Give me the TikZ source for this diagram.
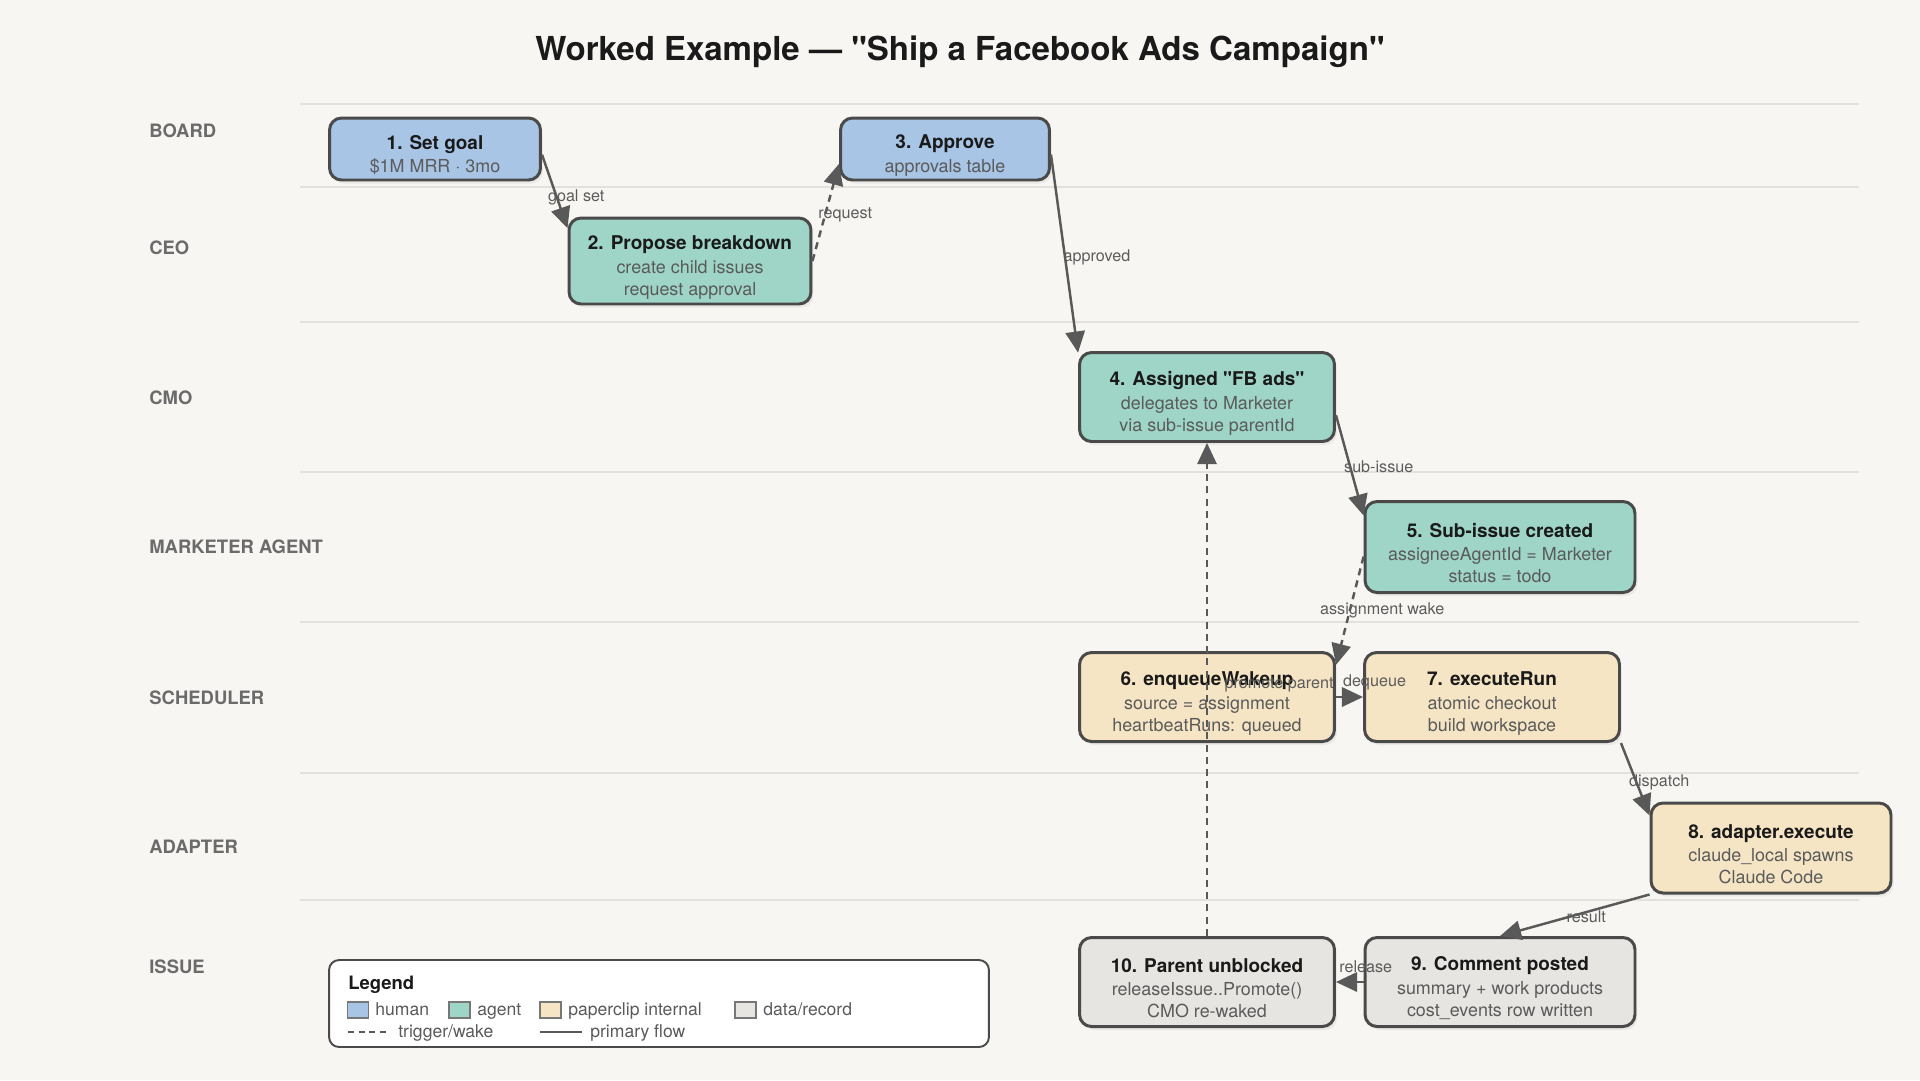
\documentclass[tikz,border=0pt]{standalone}
\usepackage{fontspec}
\setmainfont{TeX Gyre Heros}[Ligatures=TeXOff]
\usetikzlibrary{arrows.meta,shadows}

\definecolor{bgpaper}{HTML}{F7F6F2}
\definecolor{laneline}{HTML}{E3E1DC}
\definecolor{humanblue}{HTML}{A8C5E5}
\definecolor{agentteal}{HTML}{9ED5C7}
\definecolor{internalsand}{HTML}{F5E5C4}
\definecolor{recordgray}{HTML}{E6E5E1}
\definecolor{edgeink}{HTML}{4A4A4A}
\definecolor{arrowink}{HTML}{595959}
\definecolor{labelink}{HTML}{5C5C5C}
\definecolor{laneink}{HTML}{6B6B6B}
\definecolor{titleink}{HTML}{1A1A1A}
\definecolor{subink}{HTML}{5A5A5A}
\definecolor{swatchink}{HTML}{777777}

\newcommand{\steptitle}{\fontsize{10.8}{13}\selectfont\bfseries\color{titleink}}
\newcommand{\stepsub}{\fontsize{10.2}{12.5}\selectfont\color{subink}}
\newcommand{\stephead}[1]{{\rule{0pt}{15pt}\steptitle #1}}
\newcommand{\edgelbl}{\fontsize{9.2}{11}\selectfont}
\newcommand{\lanelbl}{\fontsize{10.5}{12}\selectfont\bfseries}
\newcommand{\legendhead}{\fontsize{10.5}{12}\selectfont\bfseries}
\newcommand{\legendfont}{\fontsize{10}{12}\selectfont}

\begin{document}
\begin{tikzpicture}[
        x=0.02cm, y=-0.02cm,
        stepbox/.style={rectangle, rounded corners=0.24cm, draw=edgeink, line width=1.7pt,
            inner sep=0pt, align=center, font=\stepsub,
            drop shadow={opacity=0.10, shadow xshift=0.05cm, shadow yshift=-0.07cm}},
        human/.style={stepbox, fill=humanblue},
        agent/.style={stepbox, fill=agentteal},
        internal/.style={stepbox, fill=internalsand},
        record/.style={stepbox, fill=recordgray},
        flow/.style={draw=arrowink, line width=1.4pt, -{Triangle[length=12pt,width=11pt]}},
        wake/.style={flow, dash pattern=on 4pt off 3pt},
        lbl/.style={font=\edgelbl, text=labelink, inner sep=0pt},
        lane/.style={font=\lanelbl, text=laneink, anchor=west, inner sep=0pt},
        swatch/.style={draw=swatchink, line width=0.8pt, minimum width=0.42cm, minimum height=0.32cm, inner sep=0pt},
        legtxt/.style={font=\legendfont, text=subink, anchor=base west, inner sep=0pt}
    ]

    \fill[bgpaper] (0,0) rectangle (1920,1080);
    \useasboundingbox (0,0) rectangle (1920,1080);

    % swim lanes
    \foreach \ly in {104,187,322,472,622,773,900}
        \draw[laneline, line width=0.9pt] (300,\ly) -- (1859,\ly);

    \node (laneBoard) [lane] at (149,131) {BOARD};
    \node (laneCeo) [lane] at (149,248) {CEO};
    \node (laneCmo) [lane] at (149,398) {CMO};
    \node (laneMkt) [lane] at (149,547) {MARKETER AGENT};
    \node (laneSched) [lane] at (149,698) {SCHEDULER};
    \node (laneAdapt) [lane] at (149,847) {ADAPTER};
    \node (laneIssue) [lane] at (149,967) {ISSUE};

    \node (title) [font=\fontsize{18.8}{22}\selectfont\bfseries, text=titleink] at (960,52)
        {Worked Example — "Ship a Facebook Ads Campaign"};

    % steps
    \node (n1) [human, minimum width=4.22cm, minimum height=1.24cm] at (435,149)
        {\stephead{1. Set goal}\\[1pt]\$1M MRR · 3mo};
    \node (n2) [agent, minimum width=4.84cm, minimum height=1.72cm] at (690,261)
        {\stephead{2. Propose breakdown}\\[1pt]create child issues\\request approval};
    \node (n3) [human, minimum width=4.18cm, minimum height=1.24cm] at (945,149)
        {\stephead{3. Approve}\\[1pt]approvals table};
    \node (n4) [agent, minimum width=5.1cm, minimum height=1.78cm] at (1207,397)
        {\stephead{4. Assigned "FB ads"}\\[1pt]delegates to Marketer\\via sub-issue parentId};
    \node (n5) [agent, minimum width=5.4cm, minimum height=1.82cm] at (1500,547)
        {\stephead{5. Sub-issue created}\\[1pt]assigneeAgentId = Marketer\\status = todo};
    \node (n6) [internal, minimum width=5.1cm, minimum height=1.78cm] at (1207,697)
        {\stephead{6. enqueueWakeup}\\[1pt]source = assignment\\heartbeatRuns: queued};
    \node (n7) [internal, minimum width=5.1cm, minimum height=1.78cm] at (1492,697)
        {\stephead{7. executeRun}\\[1pt]atomic checkout\\build workspace};
    \node (n8) [internal, minimum width=4.8cm, minimum height=1.8cm] at (1771,848)
        {\stephead{8. adapter.execute}\\[1pt]claude\_local spawns\\Claude Code};
    \node (n9) [record, minimum width=5.4cm, minimum height=1.78cm] at (1500,982)
        {\stephead{9. Comment posted}\\[1pt]summary + work products\\cost\_events row written};
    \node (n10) [record, minimum width=5.1cm, minimum height=1.78cm] at (1207,982)
        {\stephead{10. Parent unblocked}\\[1pt]releaseIssue..Promote()\\CMO re-waked};

    % connectors
    \draw[flow] (n1.-3) -- (n2.165)
        node (lGoal) [lbl, midway, xshift=0.43cm, yshift=-0.12cm] {goal set};
    \draw[wake] (n2.east) -- (n3.188)
        node (lRequest) [lbl, midway, xshift=0.39cm, yshift=-0.04cm] {request};
    \draw[flow] (n3.-3) -- (n4.161)
        node (lApproved) [lbl, midway, xshift=0.65cm, yshift=-0.07cm] {approved};
    \draw[flow] (n4.-8) -- (n5.167)
        node (lSub) [lbl, midway, xshift=0.58cm, yshift=-0.03cm] {sub-issue};
    \draw[wake] (n5.184) -- (n6.14)
        node (lWake) [lbl, midway, xshift=0.65cm] {assignment wake};
    \draw[flow] (n6.east) -- (n7.west)
        node (lDequeue) [lbl, midway, xshift=0.5cm, yshift=0.3cm] {dequeue};
    \draw[flow] (n7.south east) -- (n8.165)
        node (lDispatch) [lbl, midway, xshift=0.48cm, yshift=-0.07cm] {dispatch};
    \draw[flow] (n8.south west) -- (n9.north)
        node (lResult) [lbl, midway, xshift=0.23cm, yshift=-0.03cm] {result};
    \draw[flow] (n9.west) -- (n10.east)
        node (lRelease) [lbl, midway, xshift=0.32cm, yshift=0.3cm] {release};
    \draw[wake, line width=1.1pt] (n10.north) -- (n4.south)
        node (lPromote) [lbl, midway, xshift=1.44cm, yshift=0.1cm] {promote parent};

    % legend
    \node (legend) [draw=edgeink, line width=1.1pt, fill=white, rounded corners=0.2cm,
        minimum width=13.2cm, minimum height=1.74cm] at (659,1003.5) {};
    \node (legHead) [anchor=base west, font=\legendhead, text=titleink, inner sep=0pt] at (348,989) {Legend};
    \node (swHuman) [swatch, fill=humanblue] at (358,1010) {};
    \node (txHuman) [legtxt] at (375,1015) {human};
    \node (swAgent) [swatch, fill=agentteal] at (459.5,1010) {};
    \node (txAgent) [legtxt] at (477,1015) {agent};
    \node (swInternal) [swatch, fill=internalsand] at (550.5,1010) {};
    \node (txInternal) [legtxt] at (568,1015) {paperclip internal};
    \node (swRecord) [swatch, fill=recordgray] at (745.5,1010) {};
    \node (txRecord) [legtxt] at (763,1015) {data/record};
    \coordinate (wakeA) at (348,1032);
    \coordinate (wakeB) at (389,1032);
    \draw[arrowink, line width=1.3pt, dash pattern=on 3.5pt off 2.5pt] (wakeA) -- (wakeB);
    \node (txWake) [legtxt] at (398,1037) {trigger/wake};
    \coordinate (flowA) at (540,1032);
    \coordinate (flowB) at (582,1032);
    \draw[arrowink, line width=1.3pt] (flowA) -- (flowB);
    \node (txFlow) [legtxt] at (590,1037) {primary flow};

\end{tikzpicture}
\end{document}
